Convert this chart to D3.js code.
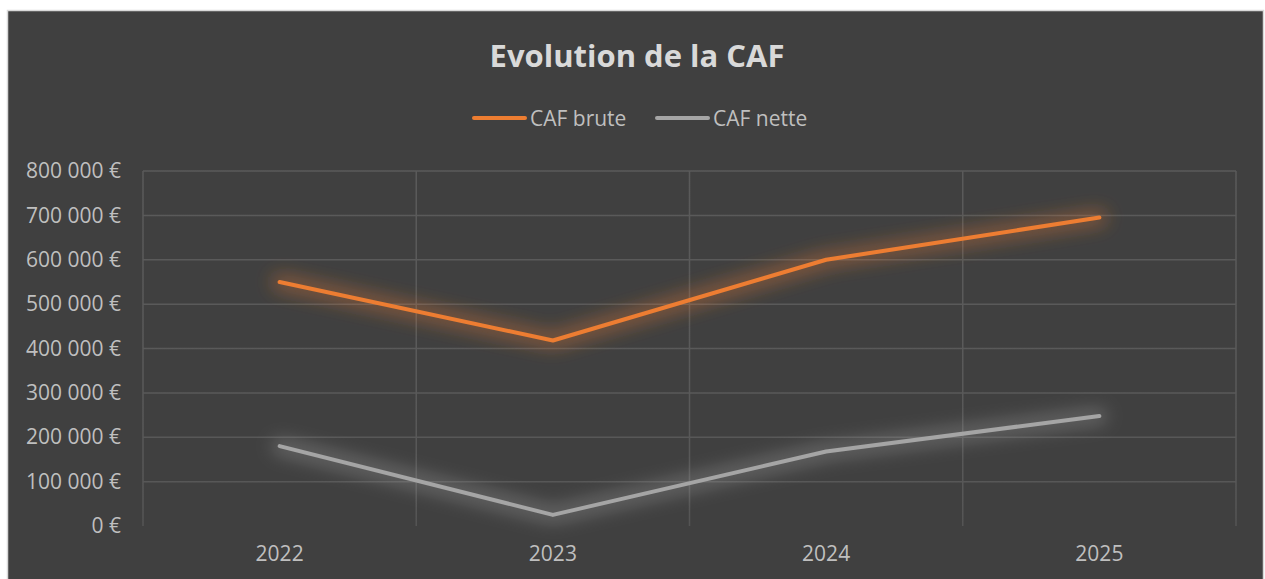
<!DOCTYPE html>
<html>
<head>
<meta charset="utf-8">
<script src="https://cdn.jsdelivr.net/npm/d3@7"></script>
<style>
  html, body { margin: 0; padding: 0; background: #ffffff; }
  svg { display: block; }
  text { font-family: "Open Sans", "Noto Sans", sans-serif; }
</style>
</head>
<body>
<svg id="chart" width="1265" height="579"></svg>
<script>
var years = ["2022", "2023", "2024", "2025"];
var cafBrute = [550000, 418000, 600000, 695000];
var cafNette = [180000, 25000, 168000, 248000];
var yTicks = [0, 100000, 200000, 300000, 400000, 500000, 600000, 700000, 800000];
var seriesNames = ["CAF brute", "CAF nette"];
var seriesColors = ["#ed7d31", "#a5a5a5"];

var svg = d3.select("#chart"),
    margin = {top: 171, right: 29, bottom: 55, left: 143},
    width = 1265 - margin.left - margin.right,
    height = 579 - margin.top - margin.bottom;

// chart box
svg.append("rect")
    .attr("x", 7.5).attr("y", 10.5)
    .attr("width", 1256).attr("height", 600)
    .attr("fill", "#404040")
    .attr("stroke", "#d9d9d9")
    .attr("stroke-width", 1.5);

var defs = svg.append("defs");

// gridlines fade toward the bottom
var grad = defs.append("linearGradient")
    .attr("id", "gridFade")
    .attr("gradientUnits", "userSpaceOnUse")
    .attr("x1", 0).attr("y1", margin.top)
    .attr("x2", 0).attr("y2", margin.top + height);
grad.append("stop").attr("offset", "0%").attr("stop-color", "#5a5a5a");
grad.append("stop").attr("offset", "45%").attr("stop-color", "#575757");
grad.append("stop").attr("offset", "85%").attr("stop-color", "#464646");
grad.append("stop").attr("offset", "100%").attr("stop-color", "#404040");

// soft glow under the lines
seriesColors.forEach(function(c, i) {
    var f = defs.append("filter")
        .attr("id", "glow" + i)
        .attr("x", "-10%").attr("y", "-70%")
        .attr("width", "120%").attr("height", "240%");
    f.append("feMorphology").attr("in", "SourceGraphic").attr("operator", "dilate")
        .attr("radius", 5).attr("result", "d");
    f.append("feGaussianBlur").attr("in", "d").attr("stdDeviation", 9).attr("result", "b");
    f.append("feComponentTransfer").attr("in", "b").attr("result", "c")
        .append("feFuncA").attr("type", "linear").attr("slope", 0.4);
    var m = f.append("feMerge");
    m.append("feMergeNode").attr("in", "c");
    m.append("feMergeNode").attr("in", "SourceGraphic");
});

var g = svg.append("g").attr("transform", "translate(" + margin.left + "," + margin.top + ")");

var x = d3.scaleBand().domain(years).range([0, width]);
var y = d3.scaleLinear().domain([0, 800000]).range([height + 2, 0]);

var fmt = function(v) {
    return d3.format(",")(v).replace(/,/g, "\u00a0") + " \u20ac";
};

// horizontal grid
g.append("g").selectAll("line")
    .data(yTicks.filter(function(d) { return d > 0; }))
    .enter().append("line")
    .attr("x1", 0).attr("x2", width)
    .attr("y1", function(d) { return y(d); })
    .attr("y2", function(d) { return y(d); })
    .attr("stroke", "url(#gridFade)")
    .attr("stroke-width", 1.5);

// vertical grid at band edges
var edges = years.map(function(d) { return x(d); }).concat([width]);
g.append("g").selectAll("line")
    .data(edges)
    .enter().append("line")
    .attr("x1", function(d) { return d; })
    .attr("x2", function(d) { return d; })
    .attr("y1", 0).attr("y2", height + 2)
    .attr("stroke", "url(#gridFade)")
    .attr("stroke-width", 1.5);

// y axis
var yAxis = g.append("g")
    .call(d3.axisLeft(y).tickValues(yTicks).tickFormat(fmt).tickSize(0).tickPadding(22));
yAxis.select(".domain").remove();
yAxis.selectAll("text")
    .attr("fill", "#bfbfbf")
    .style("font-size", "21px");

// x axis
var xAxis = g.append("g")
    .attr("transform", "translate(0," + (height + 2) + ")")
    .call(d3.axisBottom(x).tickSize(0).tickPadding(20));
xAxis.select(".domain").remove();
xAxis.selectAll("text")
    .attr("fill", "#bfbfbf")
    .style("font-size", "21px");

// lines
var line = d3.line()
    .x(function(d, i) { return x(years[i]) + x.bandwidth() / 2; })
    .y(function(d) { return y(d); });

[cafBrute, cafNette].forEach(function(s, i) {
    g.append("path")
        .datum(s)
        .attr("fill", "none")
        .attr("stroke", seriesColors[i])
        .attr("stroke-width", 4)
        .attr("stroke-linejoin", "round")
        .attr("stroke-linecap", "round")
        .attr("filter", "url(#glow" + i + ")")
        .attr("d", line);
});

// title
svg.append("text")
    .attr("x", 637).attr("y", 67)
    .attr("text-anchor", "middle")
    .attr("fill", "#d9d9d9")
    .style("font-size", "31px")
    .style("font-weight", "bold")
    .text("Evolution de la CAF");

// legend
var legendX = [472, 655];
seriesNames.forEach(function(n, i) {
    var lg = svg.append("g").attr("transform", "translate(" + legendX[i] + ",118)");
    lg.append("line")
        .attr("x1", 2).attr("x2", 53)
        .attr("y1", 0).attr("y2", 0)
        .attr("stroke", seriesColors[i])
        .attr("stroke-width", 4)
        .attr("stroke-linecap", "round");
    lg.append("text")
        .attr("x", 58).attr("y", 8)
        .attr("fill", "#bfbfbf")
        .style("font-size", "21px")
        .text(n);
});
</script>
</body>
</html>
